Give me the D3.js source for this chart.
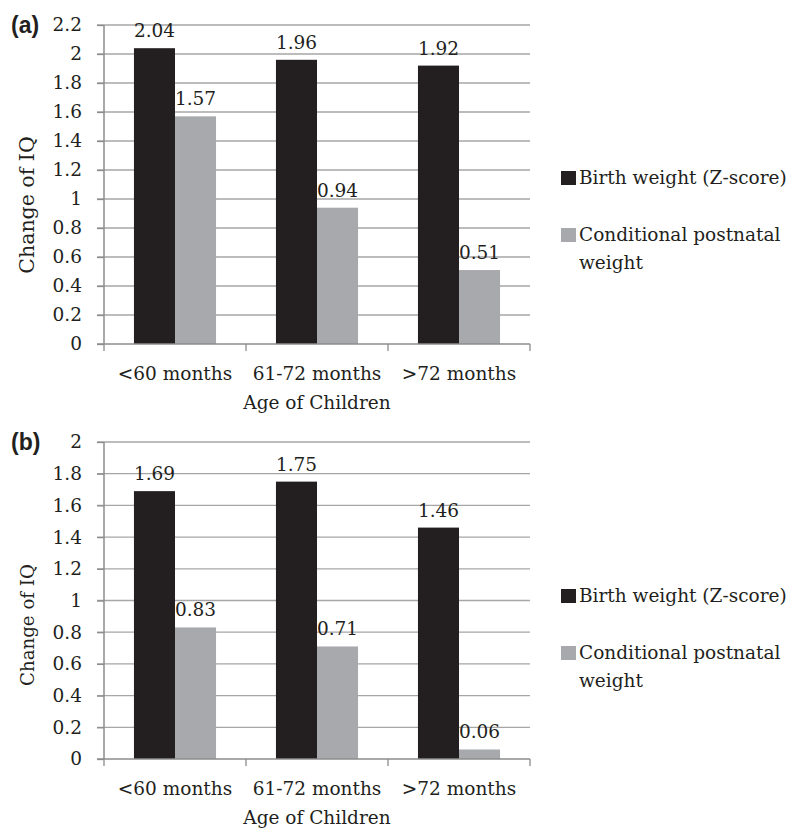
<!DOCTYPE html>
<html><head><meta charset="utf-8">
<script src="https://cdn.jsdelivr.net/npm/d3@7"></script>
<style>body{margin:0;background:#fff}</style>
</head><body>
<svg id="c" width="791" height="830"></svg>
<script>
const categories = ["<60 months", "61-72 months", ">72 months"];
const seriesNames = ["Birth weight (Z-score)", "Conditional postnatal weight"];
const birthA = [2.04, 1.96, 1.92];
const postA = [1.57, 0.94, 0.51];
const birthB = [1.69, 1.75, 1.46];
const postB = [0.83, 0.71, 0.06];
const ticksA = [0, 0.2, 0.4, 0.6, 0.8, 1, 1.2, 1.4, 1.6, 1.8, 2, 2.2];
const ticksB = [0, 0.2, 0.4, 0.6, 0.8, 1, 1.2, 1.4, 1.6, 1.8, 2];

const colors = ["#231f20", "#a7a9ac"];
const FONT = "DejaVu Serif";
const FS = 18.5;
const svg = d3.select("#c");

function panel(opts) {
  const g = svg.append("g");
  const x = d3.scaleBand().domain(categories).range([104, 530]).paddingInner(0).paddingOuter(0);
  const y = d3.scaleLinear().domain([0, opts.max]).range([opts.y0, opts.yTop]);
  const inner = d3.scaleBand().domain([0, 1]).range([0, x.bandwidth()]).paddingOuter(0.73).paddingInner(0);

  // gridlines
  g.append("g").selectAll("line").data(opts.ticks.filter(d => d > 0)).join("line")
    .attr("x1", 97).attr("x2", 530).attr("y1", d => y(d)).attr("y2", d => y(d))
    .attr("stroke", "#a6a6a6").attr("stroke-width", 1.3);

  // y axis
  const ya = g.append("g").attr("transform", "translate(104,0)")
    .call(d3.axisLeft(y).tickValues(opts.ticks).tickSize(7).tickPadding(15).tickFormat(d => String(+d.toFixed(1))));
  ya.select(".domain").attr("stroke", "#8c8c8c").attr("stroke-width", 1.5).attr("d", `M0,${opts.y0}V${opts.yTop}`);
  ya.selectAll(".tick line").attr("stroke", "#8c8c8c").attr("stroke-width", 1.3);
  ya.selectAll(".tick text").attr("font-family", FONT).attr("font-size", FS).attr("fill", "#231f20");

  // bars
  const data = [opts.s1, opts.s2];
  data.forEach((vals, si) => {
    g.append("g").selectAll("rect").data(vals).join("rect")
      .attr("x", (d, i) => x(categories[i]) + inner(si))
      .attr("width", inner.bandwidth())
      .attr("y", d => y(d)).attr("height", d => y(0) - y(d))
      .attr("fill", colors[si]);
    g.append("g").selectAll("text").data(vals).join("text")
      .attr("x", (d, i) => x(categories[i]) + inner(si) + inner.bandwidth() / 2)
      .attr("y", d => y(d) - 11)
      .attr("text-anchor", "middle")
      .attr("font-family", FONT).attr("font-size", FS).attr("fill", "#231f20")
      .text(d => d.toFixed(2));
  });

  // x axis
  const xa = g.append("g").attr("transform", `translate(0,${opts.y0})`)
    .call(d3.axisBottom(x).tickSize(0).tickPadding(23));
  xa.select(".domain").attr("stroke", "#8c8c8c").attr("stroke-width", 1.5).attr("d", "M97,0H530");
  xa.selectAll(".tick text").attr("font-family", FONT).attr("font-size", FS).attr("fill", "#231f20");
  g.append("g").selectAll("line").data([104, 246, 388, 530]).join("line")
    .attr("x1", d => d).attr("x2", d => d).attr("y1", opts.y0).attr("y2", opts.y0 + 7)
    .attr("stroke", "#8c8c8c").attr("stroke-width", 1.3);

  g.append("text").attr("x", 317).attr("y", opts.y0 + 65).attr("text-anchor", "middle")
    .attr("font-family", FONT).attr("font-size", FS).attr("fill", "#231f20").text("Age of Children");

  g.append("text").attr("transform", `translate(34,${opts.titleY}) rotate(-90)`)
    .attr("text-anchor", "middle").attr("font-family", FONT).attr("font-size", opts.titleFS).attr("fill", "#231f20")
    .text("Change of IQ");

  g.append("text").attr("x", 11).attr("y", opts.yTop + 8).attr("font-family", "Liberation Sans, Arial, sans-serif")
    .attr("font-weight", "bold").attr("font-size", 23).attr("fill", "#231f20").text(opts.label);

  // legend
  const lg = g.append("g");
  lg.append("rect").attr("x", 561).attr("y", opts.leg - 7).attr("width", 15).attr("height", 14).attr("fill", colors[0]);
  lg.append("text").attr("x", 579).attr("y", opts.leg + 6).attr("font-family", FONT).attr("font-size", FS).attr("fill", "#231f20").text(seriesNames[0]);
  lg.append("rect").attr("x", 561).attr("y", opts.leg + 50).attr("width", 15).attr("height", 14).attr("fill", colors[1]);
  lg.append("text").attr("x", 579).attr("y", opts.leg + 63).attr("font-family", FONT).attr("font-size", FS).attr("fill", "#231f20").text("Conditional postnatal");
  lg.append("text").attr("x", 579).attr("y", opts.leg + 91).attr("font-family", FONT).attr("font-size", FS).attr("fill", "#231f20").text("weight");
}

panel({ s1: birthA, s2: postA, ticks: ticksA, max: 2.2, y0: 344, yTop: 25, leg: 178, label: "(a)", titleY: 205, titleFS: 20.5 });
panel({ s1: birthB, s2: postB, ticks: ticksB, max: 2, y0: 759, yTop: 442, leg: 596, label: "(b)", titleY: 625, titleFS: 18.2 });
</script>
</body></html>
